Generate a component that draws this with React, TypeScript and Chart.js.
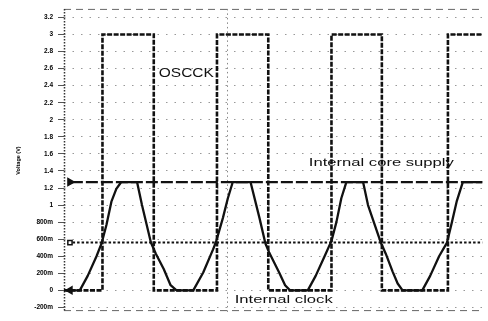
import React, { useEffect, useRef } from "react";
import { Chart, registerables } from "chart.js";

Chart.register(...registerables);

// Y axis ticks (volts) and their printed labels
const yTickValues = [-0.2, 0, 0.2, 0.4, 0.6, 0.8, 1, 1.2, 1.4, 1.6, 1.8, 2, 2.2, 2.4, 2.6, 2.8, 3, 3.2];
const yTickLabels = ["-200m", "0", "200m", "400m", "600m", "800m", "1", "1.2", "1.4", "1.6", "1.8", "2", "2.2", "2.4", "2.6", "2.8", "3", "3.2"];

// OSCCK square wave (time in ns, volts)
const oscckTime = [0, 3.36, 3.36, 7.84, 7.84, 13.36, 13.36, 17.84, 17.84, 23.36, 23.36, 27.76, 27.76, 33.53, 33.53, 36.55];
const oscckVolt = [0, 0, 3, 3, 0, 0, 3, 3, 0, 0, 3, 3, 0, 0, 3, 3];

// Internal clock (time in ns, volts)
const clockTime = [
  0.2, 1.38, 2.07, 2.84, 3.28, 3.71, 4.14, 4.57, 5.0, 6.38, 6.81, 7.59, 8.02, 8.71, 9.31, 9.83,
  11.29, 12.16, 13.02, 13.28, 13.88, 14.31, 14.74, 16.29, 17.07, 17.59, 17.93, 18.79, 19.31, 19.74,
  21.29, 21.98, 22.76, 23.36, 23.79, 24.22, 24.66, 26.12, 26.55, 27.67, 28.1, 28.7, 29.14, 29.57,
  31.29, 31.98, 32.76, 33.45, 33.88, 34.31, 34.83, 36.55,
];
const clockVolt = [
  0, 0, 0.17, 0.4, 0.55, 0.77, 1.04, 1.19, 1.27, 1.27, 1.0, 0.56, 0.43, 0.25, 0.06, 0,
  0, 0.21, 0.48, 0.57, 0.85, 1.08, 1.27, 1.27, 0.85, 0.55, 0.44, 0.21, 0.06, 0,
  0, 0.17, 0.4, 0.58, 0.8, 1.08, 1.27, 1.27, 1.0, 0.56, 0.43, 0.22, 0.08, 0,
  0, 0.17, 0.4, 0.56, 0.8, 1.05, 1.27, 1.27,
];

// Reference levels
const coreSupplyTime = [0.6, 36.55];
const coreSupplyVolt = [1.27, 1.27];
const thresholdTime = [0.75, 36.55];
const thresholdVolt = [0.56, 0.56];

// Channel markers at left edge
const markerTime = [0.52, 0.52, 0.52];
const markerVolt = [1.27, 0.56, 0];

const xMin = 0;
const xMax = 36.55;
const yMin = -0.255;
const yMax = 3.3;
const xGridTicks = [14.31];

const toPoints = (xs: number[], ys: number[]) => xs.map((x, i) => ({ x, y: ys[i] }));

const annotations = [
  { text: "OSCCK", x: 8.28, y: 2.54, w: 55, size: 12 },
  { text: "Internal core supply", x: 21.38, y: 1.49, w: 145, size: 11 },
  { text: "Internal clock", x: 14.91, y: -0.11, w: 98, size: 11 },
];

const framePlugin = {
  id: "frame",
  beforeDatasetsDraw(chart: any) {
    const { ctx, chartArea } = chart;
    ctx.save();
    ctx.strokeStyle = "#666";
    ctx.lineWidth = 1;
    ctx.setLineDash([7, 5]);
    ctx.beginPath();
    ctx.moveTo(chartArea.left, chartArea.top + 0.5);
    ctx.lineTo(chartArea.right, chartArea.top + 0.5);
    ctx.moveTo(chartArea.left, chartArea.bottom - 1.5);
    ctx.lineTo(chartArea.right, chartArea.bottom - 1.5);
    ctx.stroke();
    ctx.strokeStyle = "#333";
    ctx.lineWidth = 1.5;
    ctx.setLineDash([1.5, 1.5]);
    ctx.beginPath();
    ctx.moveTo(chartArea.left + 0.5, chartArea.top);
    ctx.lineTo(chartArea.left + 0.5, chartArea.bottom);
    ctx.stroke();
    ctx.restore();
  },
};

const textPlugin = {
  id: "texts",
  afterDatasetsDraw(chart: any) {
    const { ctx, scales } = chart;
    ctx.save();
    ctx.fillStyle = "#111";
    ctx.textBaseline = "middle";
    ctx.textAlign = "left";
    for (const a of annotations) {
      ctx.font = `${a.size}px "Liberation Sans", Arial, sans-serif`;
      const m = ctx.measureText(a.text).width;
      const px = scales.x.getPixelForValue(a.x);
      const py = scales.y.getPixelForValue(a.y);
      ctx.save();
      ctx.translate(px, py);
      ctx.scale(a.w / m, 1);
      ctx.fillText(a.text, 0, 0);
      ctx.restore();
    }
    ctx.restore();
  },
};

export default function App() {
  const ref = useRef<HTMLCanvasElement | null>(null);

  useEffect(() => {
    document.body.style.margin = "0";
    const canvas = ref.current;
    if (!canvas) return;
    const chart = new Chart(canvas, {
      type: "line",
      data: {
        datasets: [
          {
            label: "markers",
            data: toPoints(markerTime, markerVolt),
            showLine: false,
            pointStyle: ["triangle", "rect", "triangle"] as any,
            rotation: [90, 0, 270] as any,
            pointRadius: [4, 3, 4] as any,
            pointBackgroundColor: ["#111", "#fff", "#111"] as any,
            pointBorderColor: "#111",
            pointBorderWidth: 1.5,
            borderColor: "#111",
          },
          {
            label: "Internal clock",
            data: toPoints(clockTime, clockVolt),
            borderColor: "#111",
            borderWidth: 2.3,
            pointRadius: 0,
            tension: 0,
            borderJoinStyle: "round",
          },
          {
            label: "OSCCK",
            data: toPoints(oscckTime, oscckVolt),
            borderColor: "#111",
            borderWidth: 2.6,
            borderDash: [5, 1.5],
            pointRadius: 0,
            tension: 0,
          },
          {
            label: "Internal core supply",
            data: toPoints(coreSupplyTime, coreSupplyVolt),
            borderColor: "#111",
            borderWidth: 2.2,
            borderDash: [12, 3],
            pointRadius: 0,
          },
          {
            label: "threshold",
            data: toPoints(thresholdTime, thresholdVolt),
            borderColor: "#111",
            borderWidth: 2,
            borderDash: [2.5, 2],
            pointRadius: 0,
          },
        ],
      },
      options: {
        animation: false,
        responsive: false,
        devicePixelRatio: 1,
        layout: { padding: { left: 0, right: 0, top: 4, bottom: 3 } },
        plugins: { legend: { display: false }, tooltip: { enabled: false } },
        scales: {
          x: {
            type: "linear",
            min: xMin,
            max: xMax,
            ticks: { display: false },
            grid: { color: "#888", lineWidth: 1, drawTicks: false },
            border: { display: false, dash: [1.5, 3] },
            afterBuildTicks: (scale: any) => {
              scale.ticks = xGridTicks.map((v) => ({ value: v }));
            },
            afterFit: (scale: any) => {
              scale.height = 0;
            },
          },
          y: {
            type: "linear",
            min: yMin,
            max: yMax,
            afterBuildTicks: (scale: any) => {
              scale.ticks = yTickValues.map((v) => ({ value: v }));
            },
            afterFit: (scale: any) => {
              scale.width = 64;
            },
            ticks: {
              color: "#000",
              padding: 5,
              font: { size: 6.5, weight: "bold", family: "'Liberation Sans', Arial, sans-serif" },
              callback: (value: any, index: number) => yTickLabels[index],
            },
            grid: {
              color: "#999",
              lineWidth: 1,
              drawTicks: true,
              tickLength: 6,
              tickColor: "#555",
            },
            border: { display: false, dash: [1.5, 7] },
            title: {
              display: true,
              text: "Voltage (V)",
              color: "#000",
              font: { size: 5.5, weight: "bold", family: "'Liberation Sans', Arial, sans-serif" },
              padding: { top: 15, bottom: 0 },
            },
          },
        },
      },
      plugins: [framePlugin, textPlugin],
    });
    return () => chart.destroy();
  }, []);

  return (
    <div style={{ width: 488, height: 321, background: "#fff" }}>
      <canvas ref={ref} width={488} height={321} style={{ display: "block" }} />
    </div>
  );
}
